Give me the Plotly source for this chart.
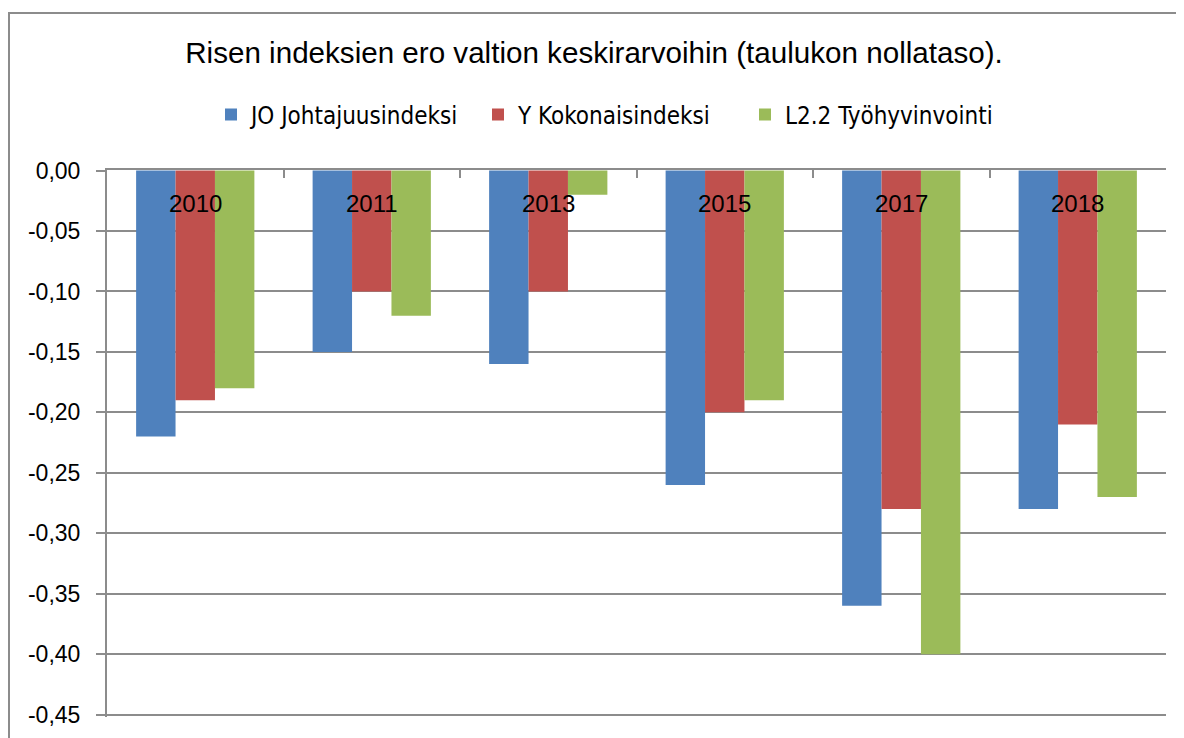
import plotly.graph_objects as go

years = ["2010", "2011", "2013", "2015", "2017", "2018"]
series_names = ["JO Johtajuusindeksi", "Y Kokonaisindeksi", "L2.2 Työhyvinvointi"]
jo_values = [-0.22, -0.15, -0.16, -0.26, -0.36, -0.28]
y_values = [-0.19, -0.10, -0.10, -0.20, -0.28, -0.21]
l22_values = [-0.18, -0.12, -0.02, -0.19, -0.40, -0.27]
colors = ["#4F81BD", "#C0504D", "#9BBB59"]
y_tick_vals = [0.0, -0.05, -0.10, -0.15, -0.20, -0.25, -0.30, -0.35, -0.40, -0.45]
y_tick_labels = ["0,00", "-0,05", "-0,10", "-0,15", "-0,20", "-0,25", "-0,30", "-0,35", "-0,40", "-0,45"]
title_text = "Risen indeksien ero valtion keskirarvoihin (taulukon nollataso)."

GRID = "#8c8c8c"
FONT = "Liberation Sans, Arial, sans-serif"
NARROW = "Liberation Sans Narrow, DejaVu Sans Condensed, Liberation Sans, sans-serif"

# page body has an 8px margin: figure coords = screen coords - 8
L, R, T, B = 99, 1158, 162, 709
W = R - L
H = B - T

fig = go.Figure()
for name, vals, col in zip(series_names, [jo_values, y_values, l22_values], colors):
    fig.add_trace(go.Bar(x=years, y=vals, name=name, marker=dict(color=col, line=dict(width=0))))

# category labels drawn just under the zero line (category index positions)
annotations = [dict(x=i, y=0, xref="x", yref="y", text=yr, showarrow=False,
                    yanchor="top", yshift=-17, font=dict(family=FONT, size=24, color="black"))
               for i, yr in enumerate(years)]

fig.update_layout(
    width=1184, height=738,
    margin=dict(l=L, r=1184 - R, t=T, b=738 - B, autoexpand=False),
    paper_bgcolor="white", plot_bgcolor="white",
    barmode="group", bargap=0.33, bargroupgap=0,
    title=dict(text=title_text, x=(594 - 8) / 1184, xanchor="center", y=1 - (53 - 8) / 738, yanchor="middle",
               font=dict(family=FONT, size=29.6, color="black")),
    legend=dict(orientation="h", x=(203 - L) / W, xanchor="left", y=(B - (115 - 8)) / H, yanchor="middle",
                font=dict(family=NARROW, size=24, color="black"),
                entrywidth=222, entrywidthmode="pixels", itemwidth=30, bgcolor="rgba(0,0,0,0)"),
    showlegend=True,
    xaxis=dict(side="top", type="category", categoryorder="array", categoryarray=years,
               range=[-0.5, len(years) - 0.5], showline=True, linecolor=GRID, linewidth=2,
               ticks="inside", tickson="boundaries", ticklen=8, tickwidth=2, tickcolor=GRID,
               showticklabels=False, showgrid=False, zeroline=False),
    yaxis=dict(range=[-0.452, 0.0005], tickvals=y_tick_vals, ticktext=y_tick_labels,
               showline=True, linecolor=GRID, linewidth=2,
               ticks="outside", ticklen=9, tickwidth=2, tickcolor=GRID,
               showgrid=True, gridcolor=GRID, gridwidth=2, zeroline=False,
               tickfont=dict(family=FONT, size=23, color="black"), ticklabelstandoff=11),
    annotations=annotations,
    shapes=[dict(type="rect", xref="paper", yref="paper",
                 x0=(1 - L) / W, x1=1.2, y0=-0.2, y1=(B - 5) / H,
                 line=dict(color=GRID, width=2), fillcolor="rgba(0,0,0,0)", layer="below")],
)

fig.write_html("out.html")
